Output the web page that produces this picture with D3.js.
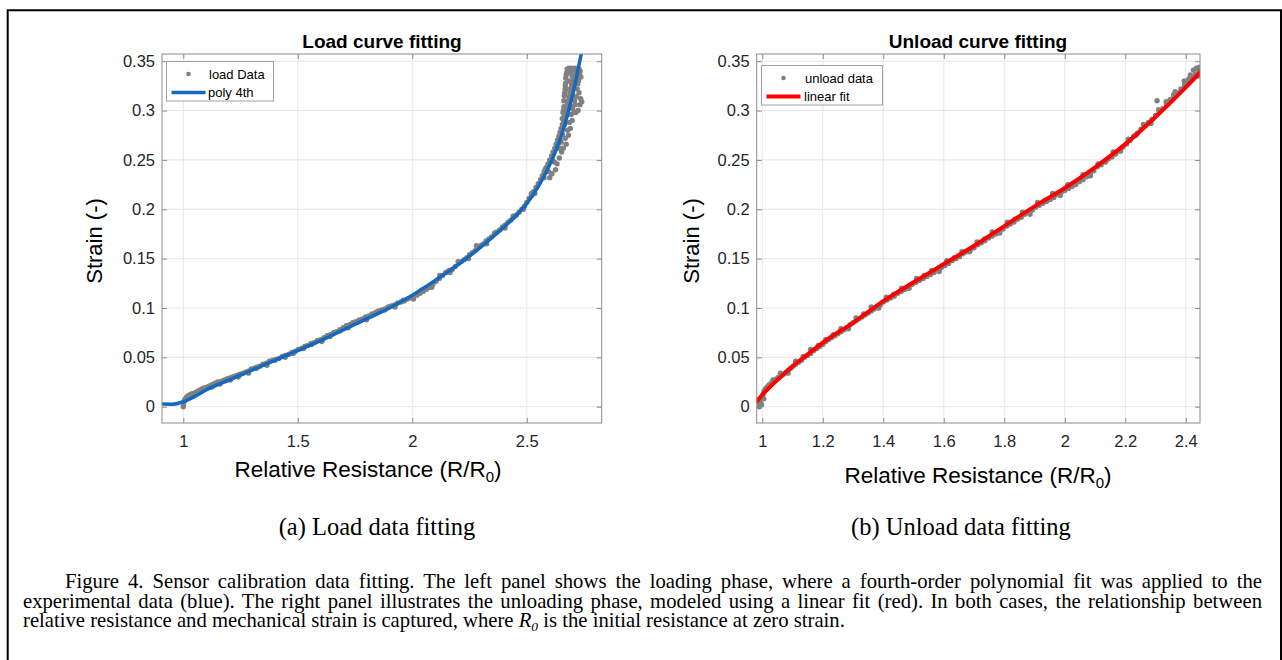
<!DOCTYPE html>
<html>
<head>
<meta charset="utf-8">
<script src="https://cdn.jsdelivr.net/npm/d3@7"></script>
<style>
  body { margin: 0; background: #fff; }
  svg { display: block; }
</style>
</head>
<body>
<svg id="fig" width="1282" height="660"></svg>
<script>
// ---- data ----
const strainTicks = [0, 0.05, 0.1, 0.15, 0.2, 0.25, 0.3, 0.35];
const loadTicksX = [1, 1.5, 2, 2.5];
const unloadTicksX = [1, 1.2, 1.4, 1.6, 1.8, 2, 2.2, 2.4];

// 4th order polynomial fit (load), sampled from the plot
const loadFitR = [0.9, 0.95, 1.0, 1.05, 1.1, 1.2, 1.3, 1.4, 1.5, 1.6, 1.7, 1.8, 1.9, 2.0, 2.1, 2.2, 2.3, 2.4, 2.5, 2.55, 2.6, 2.65, 2.7, 2.75];
const loadFitS = [0.0027, 0.0025, 0.005, 0.0105, 0.017, 0.027, 0.037, 0.047, 0.057, 0.067, 0.078, 0.089, 0.100, 0.113, 0.128, 0.144, 0.162, 0.182, 0.206, 0.223, 0.245, 0.274, 0.316, 0.372];

// linear fit (unload), sampled from the plot
const unloadFitR = [0.975, 1.0, 1.025, 1.05, 1.1, 1.15, 1.2, 1.3, 1.4, 1.5, 1.6, 1.7, 1.8, 1.9, 2.0, 2.1, 2.2, 2.3, 2.4, 2.453];
const unloadFitS = [0.003, 0.012, 0.020, 0.027, 0.041, 0.053, 0.065, 0.085, 0.107, 0.126, 0.1445, 0.163, 0.183, 0.203, 0.2215, 0.2425, 0.266, 0.2935, 0.3235, 0.3405];

const loadData = [
  [1.000,0.000],[1.001,0.003],[1.003,0.005],[1.006,0.007],[1.010,0.008],[1.015,0.010],[1.020,0.011],[1.028,0.012],
  [1.035,0.013],[1.042,0.013],[1.050,0.014],[1.058,0.015],[1.066,0.016],[1.074,0.017],[1.082,0.018],[1.090,0.019],
  [1.098,0.019],[1.106,0.020],[1.115,0.021],[1.124,0.022],[1.133,0.023],[1.142,0.024],[1.151,0.025],[1.160,0.025],
  [1.170,0.026],[1.180,0.027],[1.190,0.028],[1.200,0.029],[1.212,0.030],[1.224,0.031],[1.236,0.032],[1.248,0.033],
  [1.260,0.034],[1.272,0.035],[1.284,0.036],[1.296,0.038],[1.308,0.039],[1.320,0.040],[1.334,0.041],[1.348,0.043],
  [1.362,0.044],[1.376,0.046],[1.390,0.047],[1.404,0.048],[1.418,0.049],[1.432,0.051],[1.446,0.052],[1.460,0.053],
  [1.474,0.055],[1.488,0.056],[1.502,0.058],[1.516,0.059],[1.530,0.061],[1.544,0.062],[1.558,0.064],[1.572,0.065],
  [1.586,0.067],[1.600,0.068],[1.614,0.070],[1.628,0.072],[1.642,0.073],[1.656,0.075],[1.670,0.076],[1.684,0.078],
  [1.698,0.080],[1.712,0.082],[1.726,0.083],[1.740,0.085],[1.754,0.086],[1.768,0.088],[1.782,0.089],[1.796,0.091],
  [1.810,0.092],[1.824,0.094],[1.838,0.095],[1.852,0.097],[1.866,0.098],[1.880,0.099],[1.894,0.101],[1.908,0.102],
  [1.922,0.103],[1.936,0.105],[1.950,0.106],[1.964,0.107],[1.978,0.109],[1.992,0.110],[2.006,0.111],[2.020,0.113],
  [2.034,0.115],[2.048,0.117],[2.062,0.119],[2.076,0.121],[2.090,0.124],[2.104,0.127],[2.118,0.130],[2.132,0.133],
  [2.146,0.136],[2.160,0.138],[2.174,0.139],[2.188,0.142],[2.202,0.145],[2.214,0.147],[2.226,0.149],[2.238,0.151],
  [2.250,0.154],[2.262,0.156],[2.274,0.158],[2.286,0.161],[2.298,0.163],[2.310,0.165],[2.322,0.168],[2.334,0.170],
  [2.346,0.172],[2.358,0.175],[2.370,0.177],[2.382,0.179],[2.394,0.182],[2.406,0.184],[2.418,0.187],[2.430,0.189],
  [2.442,0.192],[2.454,0.194],[2.466,0.197],[2.478,0.200],[2.490,0.203],[2.500,0.207],[2.510,0.211],[2.520,0.214],
  [2.530,0.218],[2.540,0.222],[2.550,0.226],[2.560,0.230],[2.568,0.234],[2.576,0.238],[2.584,0.242],[2.592,0.246],
  [2.600,0.250],[2.608,0.254],[2.615,0.258],[2.622,0.262],[2.628,0.266],[2.634,0.270],[2.640,0.274],[2.645,0.278],
  [2.650,0.282],[2.655,0.286],[2.660,0.290],[2.664,0.294],[2.668,0.298],[2.672,0.302],[2.676,0.306],[2.680,0.310],
  [2.684,0.314],[2.688,0.318],[2.692,0.322],[2.696,0.326],[2.700,0.330],[2.704,0.334],[2.708,0.338],
  [1.045,0.011],[1.125,0.020],[1.205,0.027],[1.285,0.034],[1.365,0.042],[1.445,0.050],[1.525,0.059],[1.605,0.066],
  [1.685,0.077],[1.765,0.086],[1.845,0.096],[1.925,0.101],[2.005,0.109],[2.085,0.121],[2.165,0.136],[2.245,0.150],
  [2.325,0.165],[2.405,0.181],[2.485,0.200],[2.535,0.216],[2.575,0.232],[2.610,0.250],[2.640,0.268],[2.665,0.286],
  [1.080,0.016],[1.160,0.023],[1.240,0.030],[1.320,0.039],[1.400,0.047],[1.480,0.054],[1.560,0.063],[1.640,0.071],
  [1.720,0.080],[1.800,0.088],[1.880,0.098],[1.960,0.108],[2.040,0.118],[2.120,0.133],[2.200,0.147],[2.280,0.163],
  [2.360,0.176],[2.440,0.193],[2.520,0.216],[2.580,0.240],
  [2.660,0.300],[2.662,0.310],[2.665,0.318],[2.668,0.326],[2.670,0.333],[2.674,0.338],[2.680,0.342],[2.688,0.340],
  [2.695,0.343],[2.702,0.341],[2.710,0.343],[2.718,0.340],[2.724,0.342],[2.730,0.337],[2.726,0.330],[2.720,0.322],
  [2.716,0.314],[2.712,0.306],[2.706,0.298],[2.698,0.290],[2.690,0.282],[2.682,0.275],[2.672,0.266],[2.735,0.312],
  [2.740,0.309],[2.675,0.322],[2.685,0.330],[2.700,0.318],[2.690,0.305],[2.720,0.334],[2.655,0.276],[2.648,0.262],
  [2.620,0.248],[2.595,0.238],
  [2.640,0.262],[2.645,0.270],[2.650,0.268],[2.655,0.292],[2.658,0.298],[2.662,0.304],[2.664,0.315],[2.667,0.322],
  [2.670,0.328],[2.672,0.336],[2.676,0.342],[2.684,0.343],[2.692,0.338],[2.698,0.335],[2.705,0.336],[2.712,0.338],
  [2.716,0.330],[2.722,0.327],[2.728,0.342],[2.733,0.340],[2.736,0.334],[2.728,0.318],[2.732,0.306],[2.724,0.300],
  [2.714,0.298],[2.708,0.310],[2.700,0.302],[2.694,0.296],[2.686,0.288],[2.678,0.280],[2.668,0.272],[2.660,0.262],
  [2.652,0.258],[2.642,0.252],[2.632,0.246],[2.625,0.240],[2.610,0.236],[2.600,0.232]
];

const unloadData = [
  [0.990,0.000],[0.992,0.004],[0.995,0.007],[0.998,0.002],[1.000,0.010],[1.003,0.013],[1.006,0.016],[1.010,0.018],
  [1.016,0.020],[1.022,0.022],[1.030,0.024],[1.038,0.026],[1.046,0.028],[1.054,0.030],[1.062,0.031],[1.070,0.033],
  [1.078,0.035],[1.086,0.037],[1.094,0.039],[1.102,0.041],[1.110,0.043],[1.120,0.045],[1.130,0.047],[1.140,0.050],
  [1.150,0.052],[1.160,0.054],[1.170,0.057],[1.180,0.059],[1.190,0.061],[1.200,0.063],[1.210,0.066],[1.220,0.068],
  [1.230,0.070],[1.240,0.072],[1.250,0.074],[1.260,0.076],[1.270,0.078],[1.280,0.080],[1.290,0.083],[1.300,0.085],
  [1.310,0.087],[1.320,0.089],[1.330,0.091],[1.340,0.093],[1.350,0.095],[1.360,0.097],[1.370,0.099],[1.380,0.101],
  [1.390,0.103],[1.400,0.106],[1.412,0.108],[1.424,0.110],[1.436,0.112],[1.448,0.115],[1.460,0.117],[1.472,0.119],
  [1.484,0.121],[1.496,0.124],[1.508,0.126],[1.520,0.128],[1.532,0.130],[1.544,0.132],[1.556,0.134],[1.568,0.136],
  [1.580,0.139],[1.592,0.141],[1.604,0.143],[1.616,0.145],[1.628,0.148],[1.640,0.150],[1.652,0.152],[1.664,0.155],
  [1.676,0.157],[1.688,0.159],[1.700,0.161],[1.712,0.164],[1.724,0.166],[1.736,0.168],[1.748,0.171],[1.760,0.173],
  [1.772,0.175],[1.784,0.178],[1.796,0.180],[1.808,0.183],[1.820,0.185],[1.832,0.187],[1.844,0.190],[1.856,0.192],
  [1.868,0.195],[1.880,0.197],[1.892,0.199],[1.904,0.202],[1.916,0.204],[1.928,0.206],[1.940,0.208],[1.952,0.210],
  [1.964,0.212],[1.976,0.215],[1.988,0.217],[2.000,0.219],[2.012,0.221],[2.024,0.223],[2.036,0.225],[2.048,0.228],
  [2.060,0.230],[2.072,0.233],[2.084,0.236],[2.096,0.239],[2.108,0.243],[2.120,0.245],[2.132,0.248],[2.144,0.251],
  [2.156,0.253],[2.168,0.256],[2.180,0.259],[2.192,0.263],[2.204,0.266],[2.216,0.270],[2.228,0.274],[2.240,0.277],
  [2.252,0.281],[2.264,0.284],[2.276,0.288],[2.288,0.291],[2.300,0.295],[2.312,0.298],[2.324,0.302],[2.336,0.306],
  [2.348,0.311],[2.360,0.314],[2.372,0.318],[2.384,0.322],[2.396,0.326],[2.408,0.330],[2.420,0.333],[2.432,0.337],
  [2.444,0.340],[2.450,0.342],
  [1.005,0.008],[1.035,0.027],[1.085,0.034],[1.135,0.051],[1.185,0.062],[1.235,0.073],[1.285,0.079],[1.335,0.094],
  [1.385,0.100],[1.435,0.114],[1.485,0.120],[1.535,0.133],[1.585,0.137],[1.635,0.151],[1.685,0.157],[1.735,0.170],
  [1.785,0.176],[1.835,0.190],[1.885,0.195],[1.935,0.209],[1.985,0.214],[2.035,0.227],[2.085,0.234],[2.135,0.248],
  [2.185,0.259],[2.235,0.275],[2.285,0.287],[2.305,0.310],[2.335,0.309],[2.365,0.319],[2.395,0.330],[2.415,0.336],
  [2.425,0.341],[2.435,0.343],[2.440,0.335],[2.445,0.344],
  [1.060,0.034],[1.110,0.046],[1.160,0.058],[1.210,0.068],[1.260,0.079],[1.310,0.090],[1.360,0.101],[1.410,0.111],
  [1.460,0.120],[1.510,0.130],[1.560,0.138],[1.610,0.148],[1.660,0.157],[1.710,0.167],[1.760,0.177],[1.810,0.187],
  [1.860,0.197],[1.910,0.207],[1.960,0.216],[2.010,0.225],[2.060,0.235],[2.110,0.246],[2.160,0.258],[2.210,0.271],
  [2.260,0.286],[2.310,0.301],[2.360,0.316],[2.410,0.332]
];

// ---- drawing ----
const svg = d3.select("#fig");
const sans = "'Liberation Sans', Arial, sans-serif";
const serif = "'Liberation Serif', 'Times New Roman', serif";
const axisColor = "#8c8c8c";
const textColor = "#262626";

// outer frame
svg.append("path")
  .attr("d", "M7.7,661 V10.3 H1281 V661")
  .attr("fill", "none")
  .attr("stroke", "#000")
  .attr("stroke-width", 2);

function panel(cfg) {
  const top = 54, bottom = 423;
  const x = d3.scaleLinear().domain(cfg.xDomain).range([cfg.left, cfg.right]);
  const y = d3.scaleLinear().domain([-0.0165, 0.3573]).range([bottom, top]);
  const g = svg.append("g");

  g.append("clipPath").attr("id", cfg.id)
    .append("rect")
    .attr("x", cfg.left).attr("y", top)
    .attr("width", cfg.right - cfg.left).attr("height", bottom - top);

  // grid
  g.selectAll(".gx").data(cfg.ticksX).join("line")
    .attr("x1", d => x(d)).attr("x2", d => x(d))
    .attr("y1", top).attr("y2", bottom)
    .attr("stroke", "#e6e6e6").attr("stroke-width", 1);
  g.selectAll(".gy").data(strainTicks).join("line")
    .attr("y1", d => y(d)).attr("y2", d => y(d))
    .attr("x1", cfg.left).attr("x2", cfg.right)
    .attr("stroke", "#e6e6e6").attr("stroke-width", 1);

  const plot = g.append("g").attr("clip-path", "url(#" + cfg.id + ")");

  // scatter
  plot.selectAll("circle").data(cfg.data).join("circle")
    .attr("cx", d => x(d[0]))
    .attr("cy", d => y(d[1]))
    .attr("r", 2.7)
    .attr("fill", "#808080");

  // fit curve
  const line = d3.line()
    .x(d => x(d[0]))
    .y(d => y(d[1]))
    .curve(d3.curveMonotoneX);
  plot.append("path")
    .datum(d3.zip(cfg.fitR, cfg.fitS))
    .attr("d", line)
    .attr("fill", "none")
    .attr("stroke", cfg.color)
    .attr("stroke-width", cfg.lineWidth);

  // axes (ticks pointing inward on all sides)
  const fmt = d3.format("~g");
  const styleAxis = sel => {
    sel.select(".domain").remove();
    sel.selectAll(".tick line").attr("stroke", axisColor);
    sel.selectAll(".tick text")
      .attr("fill", textColor)
      .style("font-family", sans)
      .style("font-size", "16.5px");
  };
  g.append("g").attr("transform", `translate(0,${bottom})`)
    .call(d3.axisBottom(x).tickValues(cfg.ticksX).tickFormat(fmt).tickSize(-5).tickPadding(12.5))
    .call(styleAxis);
  g.append("g").attr("transform", `translate(0,${top})`)
    .call(d3.axisTop(x).tickValues(cfg.ticksX).tickFormat("").tickSize(-5))
    .call(styleAxis);
  g.append("g").attr("transform", `translate(${cfg.left},0)`)
    .call(d3.axisLeft(y).tickValues(strainTicks).tickFormat(fmt).tickSize(-5).tickPadding(7))
    .call(styleAxis);
  g.append("g").attr("transform", `translate(${cfg.right},0)`)
    .call(d3.axisRight(y).tickValues(strainTicks).tickFormat("").tickSize(-5))
    .call(styleAxis);

  g.append("rect")
    .attr("x", cfg.left).attr("y", top)
    .attr("width", cfg.right - cfg.left).attr("height", bottom - top)
    .attr("fill", "none").attr("stroke", axisColor).attr("stroke-width", 1);

  // title
  g.append("text")
    .attr("x", cfg.titleX).attr("y", 48)
    .attr("text-anchor", "middle")
    .style("font-family", sans).style("font-size", "19px").style("font-weight", "bold")
    .attr("fill", "#000")
    .text(cfg.title);

  // x label
  const xl = g.append("text")
    .attr("x", cfg.xLabelX).attr("y", cfg.xLabelY)
    .attr("text-anchor", "middle")
    .style("font-family", sans).style("font-size", "22.5px")
    .attr("fill", "#000");
  xl.append("tspan").text("Relative Resistance (R/R");
  xl.append("tspan").attr("dy", 5).style("font-size", "15px").text("0");
  xl.append("tspan").attr("dy", -5).text(")");

  // y label
  g.append("text")
    .attr("transform", `translate(${cfg.yLabelX},241) rotate(-90)`)
    .attr("text-anchor", "middle")
    .style("font-family", sans).style("font-size", "22px")
    .attr("fill", "#000")
    .text("Strain (-)");

  // legend
  const L = cfg.legend;
  g.append("rect")
    .attr("x", L.x).attr("y", L.y).attr("width", L.w).attr("height", L.h)
    .attr("fill", "#fff").attr("stroke", "#a0a0a0").attr("stroke-width", 1);
  g.append("circle")
    .attr("cx", L.x + 22).attr("cy", L.y + 12.5).attr("r", 2.3).attr("fill", "#808080");
  g.append("line")
    .attr("x1", L.x + 5).attr("x2", L.x + 39)
    .attr("y1", L.y + 31).attr("y2", L.y + 31)
    .attr("stroke", cfg.color).attr("stroke-width", cfg.lineWidth);
  g.append("text")
    .attr("x", L.textX).attr("y", L.y + 12.5).attr("dy", "0.35em")
    .style("font-family", sans).style("font-size", "13px").attr("fill", "#000")
    .text(L.labels[0]);
  g.append("text")
    .attr("x", L.textX - 1).attr("y", L.y + 31).attr("dy", "0.35em")
    .style("font-family", sans).style("font-size", "13px").attr("fill", "#000")
    .text(L.labels[1]);
}

panel({
  id: "clipLoad",
  left: 162, right: 601.7, xDomain: [0.907, 2.827],
  ticksX: loadTicksX,
  data: loadData, fitR: loadFitR, fitS: loadFitS,
  color: "#1468be", lineWidth: 3.5,
  title: "Load curve fitting", titleX: 382,
  xLabelX: 368, xLabelY: 477, yLabelX: 102,
  legend: { x: 166.5, y: 61.5, w: 107, h: 39.5, textX: 209, labels: ["load Data", "poly 4th"] }
});

panel({
  id: "clipUnload",
  left: 756.7, right: 1200, xDomain: [0.9815, 2.447],
  ticksX: unloadTicksX,
  data: unloadData, fitR: unloadFitR, fitS: unloadFitS,
  color: "#ff0000", lineWidth: 4,
  title: "Unload curve fitting", titleX: 978,
  xLabelX: 978, xLabelY: 483, yLabelX: 699,
  legend: { x: 761.5, y: 65.5, w: 121, h: 39.5, textX: 805, labels: ["unload data", "linear fit"] }
});

// sub captions
svg.append("text").attr("x", 377).attr("y", 535).attr("text-anchor", "middle")
  .style("font-family", serif).style("font-size", "24.5px").text("(a) Load data fitting");
svg.append("text").attr("x", 961).attr("y", 535).attr("text-anchor", "middle")
  .style("font-family", serif).style("font-size", "24.5px").text("(b) Unload data fitting");

// figure caption, justified lines
const capLines = [
  { x: 65, y: 588, w: 1197, parts: [["Figure 4. Sensor calibration data fitting. The left panel shows the loading phase, where a fourth-order polynomial fit was applied to the"]] },
  { x: 23, y: 607.5, w: 1239, parts: [["experimental data (blue). The right panel illustrates the unloading phase, modeled using a linear fit (red). In both cases, the relationship between"]] },
  { x: 23, y: 627, w: 0, parts: [["relative resistance and mechanical strain is captured, where "], ["R", "i"], ["0", "sub"], [" is the initial resistance at zero strain."]] }
];
capLines.forEach(c => {
  const t = svg.append("text").attr("x", c.x).attr("y", c.y)
    .style("font-family", serif).style("font-size", "20.7px").attr("fill", "#000");
  c.parts.forEach(p => {
    const ts = t.append("tspan").text(p[0]);
    if (p[1] === "i") ts.style("font-style", "italic");
    if (p[1] === "sub") ts.style("font-style", "italic").style("font-size", "13.5px").attr("dy", 4);
    if (p[1] === undefined && c.parts.length > 1 && p[0].startsWith(" ")) ts.attr("dy", -4);
  });
  if (c.w > 0) {
    const natural = t.node().getComputedTextLength();
    const spaces = (c.parts[0][0].match(/ /g) || []).length;
    t.attr("word-spacing", ((c.w - natural) / spaces) + "px");
  }
});
</script>
</body>
</html>
